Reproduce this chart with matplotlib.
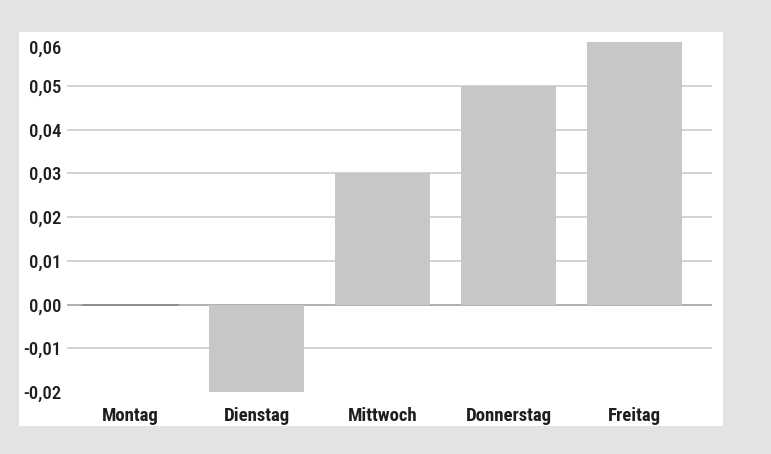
import matplotlib.pyplot as plt
import matplotlib.transforms as mtransforms
from matplotlib.patches import Rectangle

tage = ['Montag', 'Dienstag', 'Mittwoch', 'Donnerstag', 'Freitag']
werte = [0.0, -0.02, 0.03, 0.05, 0.06]
yticks = [-0.02, -0.01, 0.0, 0.01, 0.02, 0.03, 0.04, 0.05, 0.06]
ylabels = ['-0,02', '-0,01', '0,00', '0,01', '0,02', '0,03', '0,04', '0,05', '0,06']

plt.rcParams['font.family'] = ['Roboto Condensed', 'Liberation Sans', 'DejaVu Sans']

fig = plt.figure(figsize=(7.71, 4.54), dpi=100)
fig.patch.set_facecolor('#e2e3e5')
# weisse Flaeche hinter dem Diagramm
fig.patches.append(Rectangle((19/771, 28/454), 704/771, 394/454, transform=fig.transFigure,
                             facecolor='white', edgecolor='none', zorder=-5))

ax = fig.add_axes([67/771, 62/454, 645/771, 350/454])
ax.set_facecolor('none')

x = range(len(tage))
ax.bar(x, werte, width=0.754, color='#c6c7c9', zorder=2)

# Gitterlinien nur innen
for v in yticks[1:-1]:
    ax.axhline(v, color='#9a9a9a' if v == 0 else '#c8c8c8', lw=1.1, zorder=1)
ax.plot([-0.377, 0.377], [0, 0], color='#8a8a8a', lw=1.2, zorder=3)

ax.set_xlim(-0.504, 4.615)
ax.set_ylim(-0.02, 0.06)
ax.set_yticks(yticks)
ax.set_yticklabels(ylabels)
ax.set_xticks(list(x))
ax.set_xticklabels(tage)
for spine in ax.spines.values():
    spine.set_visible(False)
ax.tick_params(axis='both', length=0, labelsize=13.5, labelcolor='#1e1e1e')
ax.tick_params(axis='y', pad=4.3)
ax.tick_params(axis='x', pad=10.5)
for lbl in ax.get_yticklabels():
    lbl.set_fontweight('medium')
for lbl in ax.get_xticklabels():
    lbl.set_fontweight('bold')

# oberste Beschriftung etwas nach unten ruecken
top = ax.get_yticklabels()[-1]
top.set_transform(top.get_transform() + mtransforms.ScaledTranslation(0, -5/100, fig.dpi_scale_trans))

fig.savefig('out.png', dpi=100, facecolor=fig.get_facecolor())
